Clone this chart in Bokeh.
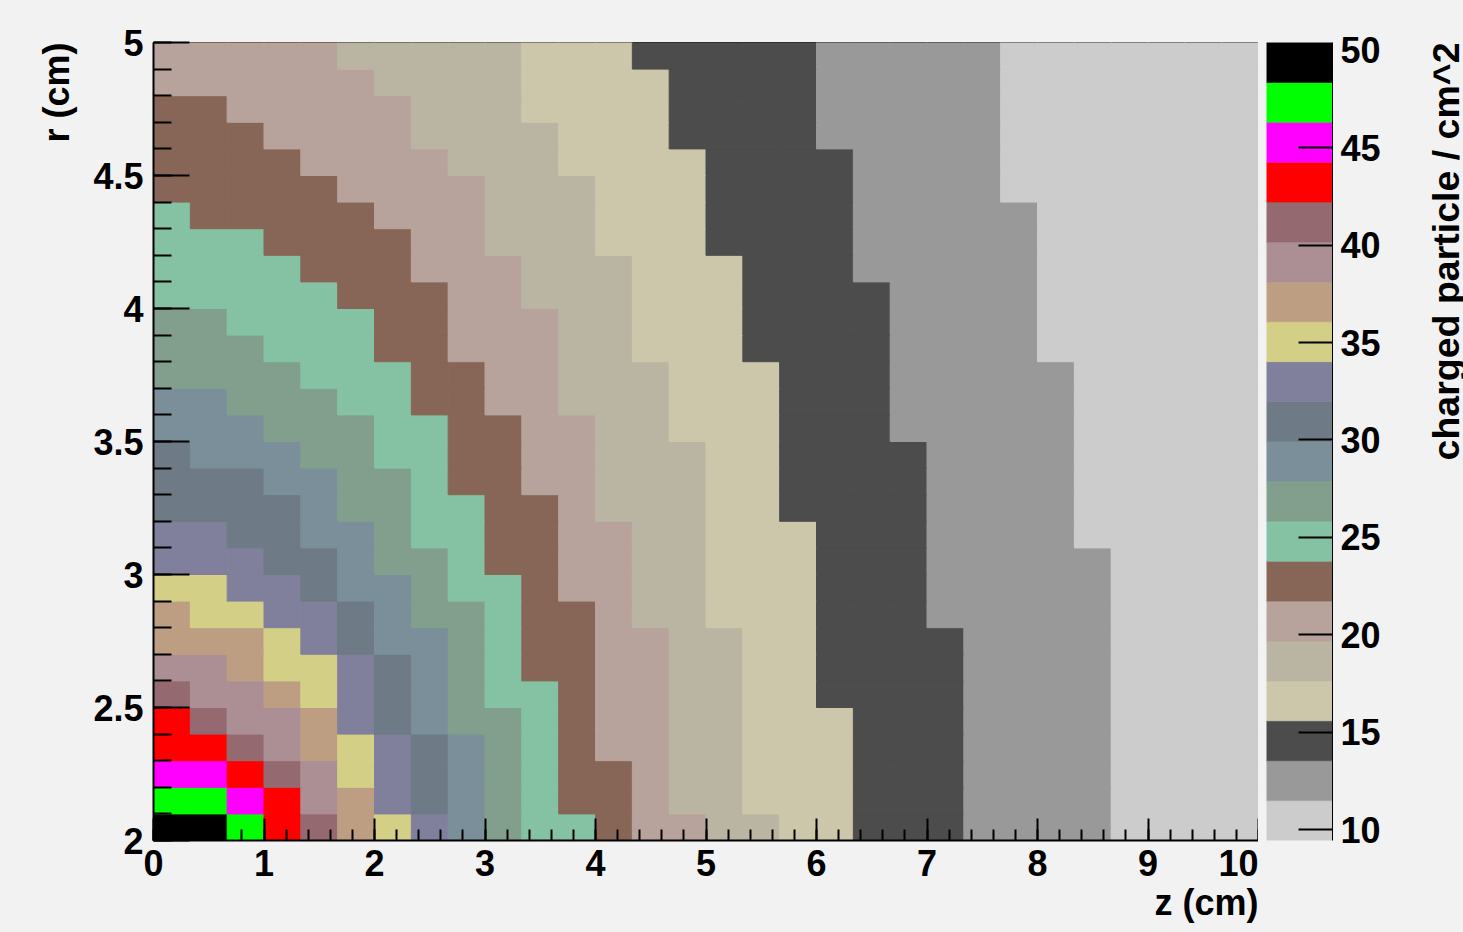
import numpy as np
from bokeh.plotting import figure
from bokeh.models import (ColumnDataSource, LinearColorMapper, SingleIntervalTicker,
                          FixedTicker, Title, CustomJSTickFormatter)
from bokeh.layouts import row
from bokeh.embed import file_html
from bokeh.resources import INLINE

# ---------------- data ----------------
z_range = (0.0, 10.0)      # cm
r_range = (2.0, 5.0)       # cm
n_z_bins = 30
n_r_bins = 30

# charged particle / cm^2 per (z, r) bin; rows from r = 5.0 (top) down to r = 2.0 (bottom),
# columns from z = 0 to z = 10
density_rows = [
    [21,21,21,21,21,19,19,19,19,19,17,17,17,15,15,15,15,15,13,13,13,13,13,11,11,11,11,11,11,11],
    [21,21,21,21,21,21,19,19,19,19,17,17,17,17,15,15,15,15,13,13,13,13,13,11,11,11,11,11,11,11],
    [23,23,21,21,21,21,21,19,19,19,17,17,17,17,15,15,15,15,13,13,13,13,13,11,11,11,11,11,11,11],
    [23,23,23,21,21,21,21,19,19,19,19,17,17,17,15,15,15,15,13,13,13,13,13,11,11,11,11,11,11,11],
    [23,23,23,23,21,21,21,21,19,19,19,17,17,17,17,15,15,15,15,13,13,13,13,11,11,11,11,11,11,11],
    [23,23,23,23,23,21,21,21,21,19,19,19,17,17,17,15,15,15,15,13,13,13,13,11,11,11,11,11,11,11],
    [25,23,23,23,23,23,21,21,21,19,19,19,17,17,17,15,15,15,15,13,13,13,13,13,11,11,11,11,11,11],
    [25,25,25,23,23,23,23,21,21,19,19,19,17,17,17,15,15,15,15,13,13,13,13,13,11,11,11,11,11,11],
    [25,25,25,25,23,23,23,21,21,21,19,19,19,17,17,17,15,15,15,13,13,13,13,13,11,11,11,11,11,11],
    [25,25,25,25,25,23,23,23,21,21,19,19,19,17,17,17,15,15,15,15,13,13,13,13,11,11,11,11,11,11],
    [27,27,25,25,25,25,23,23,21,21,21,19,19,17,17,17,15,15,15,15,13,13,13,13,11,11,11,11,11,11],
    [27,27,27,25,25,25,23,23,21,21,21,19,19,17,17,17,15,15,15,15,13,13,13,13,11,11,11,11,11,11],
    [27,27,27,27,25,25,25,23,23,21,21,19,19,19,17,17,17,15,15,15,13,13,13,13,13,11,11,11,11,11],
    [29,29,27,27,27,25,25,23,23,21,21,19,19,19,17,17,17,15,15,15,13,13,13,13,13,11,11,11,11,11],
    [29,29,29,27,27,27,25,25,23,23,21,21,19,19,17,17,17,15,15,15,13,13,13,13,13,11,11,11,11,11],
    [31,29,29,29,27,27,25,25,23,23,21,21,19,19,19,17,17,15,15,15,15,13,13,13,13,11,11,11,11,11],
    [31,31,31,29,29,27,27,25,23,23,21,21,19,19,19,17,17,15,15,15,15,13,13,13,13,11,11,11,11,11],
    [31,31,31,31,29,27,27,25,25,23,23,21,19,19,19,17,17,15,15,15,15,13,13,13,13,11,11,11,11,11],
    [33,33,31,31,29,29,27,25,25,23,23,21,21,19,19,17,17,17,15,15,15,13,13,13,13,11,11,11,11,11],
    [33,33,33,31,31,29,27,27,25,23,23,21,21,19,19,17,17,17,15,15,15,13,13,13,13,13,11,11,11,11],
    [35,35,33,33,31,29,29,27,25,25,23,21,21,19,19,17,17,17,15,15,15,13,13,13,13,13,11,11,11,11],
    [37,35,35,33,33,31,29,27,27,25,23,23,21,19,19,17,17,17,15,15,15,13,13,13,13,13,11,11,11,11],
    [37,37,37,35,33,31,29,29,27,25,23,23,21,21,19,19,17,17,15,15,15,15,13,13,13,13,11,11,11,11],
    [39,39,37,35,35,33,31,29,27,25,23,23,21,21,19,19,17,17,15,15,15,15,13,13,13,13,11,11,11,11],
    [41,39,39,37,35,33,31,29,27,25,25,23,21,21,19,19,17,17,15,15,15,15,13,13,13,13,11,11,11,11],
    [43,41,39,39,37,33,31,29,27,27,25,23,21,21,19,19,17,17,17,15,15,15,13,13,13,13,11,11,11,11],
    [43,43,41,39,37,35,33,31,29,27,25,23,21,21,19,19,17,17,17,15,15,15,13,13,13,13,11,11,11,11],
    [45,45,43,41,39,35,33,31,29,27,25,23,23,21,19,19,17,17,17,15,15,15,13,13,13,13,11,11,11,11],
    [47,47,45,43,39,37,33,31,29,27,25,23,23,21,19,19,17,17,17,15,15,15,13,13,13,13,11,11,11,11],
    [49,49,47,43,41,37,35,33,29,27,25,25,23,21,21,19,19,17,17,15,15,15,13,13,13,13,11,11,11,11],
]

# colour scale (20 contour levels)
scale_low, scale_high = 9.44, 50.4
n_levels = 20
palette = ["#cccccc", "#999999", "#4c4c4c", "#ccc7ab", "#bab5a3",
           "#b8a39c", "#876657", "#85c2a3", "#829e8c", "#7a8f99",
           "#6e7a85", "#80809c", "#d4cf87", "#bd9e82", "#ab8f94",
           "#946970", "#ff0000", "#ff00ff", "#00ff00", "#000000"]
colorbar_ticks = [10, 15, 20, 25, 30, 35, 40, 45, 50]

x_title = "z (cm)"
y_title = "r (cm)"
z_title = "charged particle / cm^2"

# ---------------- build ----------------
FONT = "Liberation Sans"
BG = "#f2f2f2"
H = 932
TOP, BOTTOM = 42, 92

dens = np.array(density_rows[::-1], dtype=float)   # index 0 -> r = 2.0
z_edges = np.linspace(z_range[0], z_range[1], n_z_bins + 1)
r_edges = np.linspace(r_range[0], r_range[1], n_r_bins + 1)
L, B = np.meshgrid(z_edges[:-1], r_edges[:-1])
R, T = np.meshgrid(z_edges[1:], r_edges[1:])
src = ColumnDataSource(dict(left=L.ravel(), right=R.ravel(), bottom=B.ravel(),
                            top=T.ravel(), value=dens.ravel()))
mapper = LinearColorMapper(palette=palette, low=scale_low, high=scale_high)

p = figure(width=1258, height=H, x_range=z_range, y_range=r_range,
           output_backend="svg", toolbar_location=None,
           min_border_left=153, min_border_right=0, min_border_top=TOP, min_border_bottom=BOTTOM,
           background_fill_color="white", border_fill_color=BG)
p.quad(left="left", right="right", bottom="bottom", top="top", source=src,
       fill_color={"field": "value", "transform": mapper},
       line_color={"field": "value", "transform": mapper}, line_width=1)
p.grid.visible = False
p.outline_line_color = "black"
p.outline_line_width = 1

for ax in (p.xaxis[0], p.yaxis[0]):
    ax.major_label_text_font = FONT
    ax.major_label_text_font_style = "bold"
    ax.major_label_text_font_size = "36px"
    ax.major_label_text_color = "black"
    ax.axis_line_color = "black"
    ax.axis_line_width = 2
    ax.major_tick_line_width = 2
    ax.minor_tick_line_width = 2
    ax.major_tick_out = 0
    ax.minor_tick_out = 0

p.xaxis.ticker = SingleIntervalTicker(interval=1, num_minor_ticks=5)
p.xaxis.major_tick_in = 22
p.xaxis.minor_tick_in = 11
p.xaxis.major_label_standoff = 9

p.yaxis.ticker = SingleIntervalTicker(interval=0.5, num_minor_ticks=5)
p.yaxis.formatter = CustomJSTickFormatter(code="return String(Math.round(tick*10)/10);")
p.yaxis.major_tick_in = 36
p.yaxis.minor_tick_in = 18
p.yaxis.major_label_standoff = 10

p.add_layout(Title(text=x_title, align="right", vertical_align="top", standoff=7,
                   text_font=FONT, text_font_style="bold", text_font_size="36px",
                   text_color="black"), "below")
p.add_layout(Title(text=y_title, align="right", vertical_align="bottom", standoff=27,
                   text_font=FONT, text_font_style="bold", text_font_size="36px",
                   text_color="black"), "left")

# palette
levels = np.linspace(scale_low, scale_high, n_levels + 1)
p2 = figure(width=160, height=H, x_range=(0, 1), y_range=(scale_low, scale_high),
            y_axis_location="right", output_backend="svg", toolbar_location=None,
            min_border_left=8, min_border_right=86, min_border_top=TOP, min_border_bottom=BOTTOM,
            background_fill_color=BG, border_fill_color=BG)
p2.quad(left=0, right=1, bottom=levels[:-1], top=levels[1:], fill_color=palette,
        line_color=palette, line_width=0.6)
p2.grid.visible = False
p2.xaxis.visible = False
p2.outline_line_color = None
ya = p2.yaxis[0]
ya.ticker = FixedTicker(ticks=colorbar_ticks, minor_ticks=[])
ya.major_label_text_font = FONT
ya.major_label_text_font_style = "bold"
ya.major_label_text_font_size = "36px"
ya.major_label_text_color = "black"
ya.axis_line_color = "black"
ya.axis_line_width = 1
ya.major_tick_in = 34
ya.major_tick_out = 0
ya.major_tick_line_width = 2
ya.major_label_standoff = 8

# colour-scale title (a slim figure whose left panel carries the vertical title)
p3 = figure(width=45, height=H, x_range=(0, 1), y_range=(scale_low, scale_high),
            x_axis_location=None, y_axis_location=None,
            output_backend="svg", toolbar_location=None,
            min_border_left=44, min_border_right=0, min_border_top=TOP, min_border_bottom=BOTTOM,
            background_fill_color=BG, border_fill_color=BG)
p3.grid.visible = False
p3.outline_line_color = None
p3.add_layout(Title(text=z_title, align="right", vertical_align="bottom", standoff=-8,
                    text_font=FONT, text_font_style="bold", text_font_size="37.5px",
                    text_color="black"), "left")

layout = row(p, p2, p3, styles={"background-color": BG})
open("out.html", "w").write(file_html(layout, INLINE))
